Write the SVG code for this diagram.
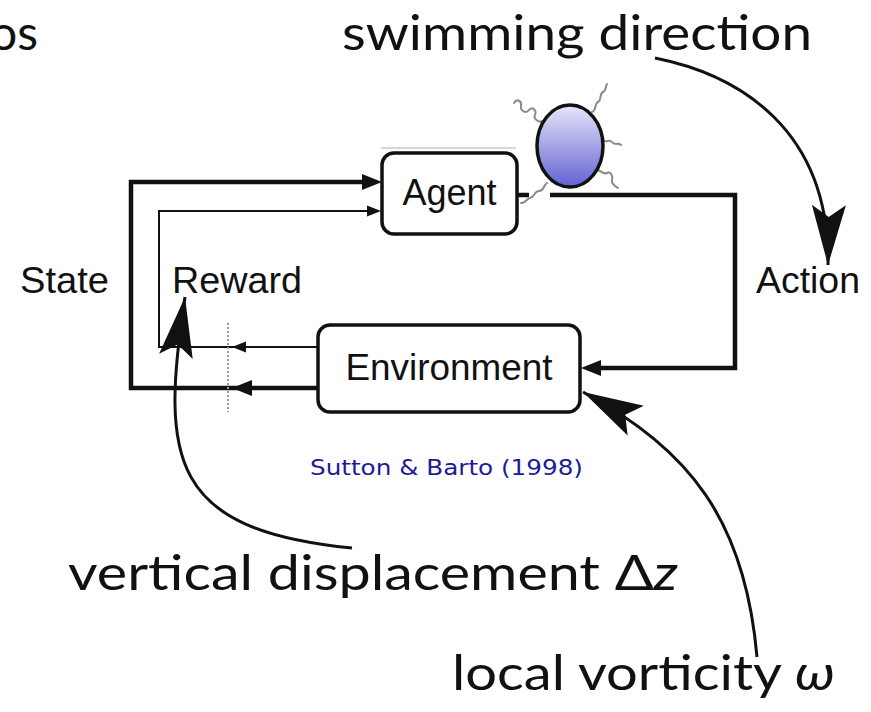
<svg xmlns="http://www.w3.org/2000/svg" width="871" height="712" viewBox="0 0 871 712">
  <style>
    .box { fill: #ffffff; stroke: #111; stroke-width: 3.5; }
    .lbl { font-family: "Liberation Sans", Arial, sans-serif; font-size: 36px; fill: #111; }
    .big { font-family: Lato, "Open Sans", sans-serif; font-size: 48px; fill: #111; }
    .thick { fill: none; stroke: #111; stroke-width: 4.5; }
    .thin { fill: none; stroke: #111; stroke-width: 2; }
    .curve { fill: none; stroke: #111; stroke-width: 3; }
    .flag { fill: none; stroke: #8a8a8a; stroke-width: 2; stroke-linecap: round; }
    .head { fill: #111; }
  </style>
  <defs>
    <linearGradient id="cellFill" x1="0" y1="0" x2="0" y2="1">
      <stop offset="0" stop-color="#e6e6fa"/>
      <stop offset="1" stop-color="#6262d2"/>
    </linearGradient>
    <marker id="swept" markerUnits="userSpaceOnUse" markerWidth="64" markerHeight="40" viewBox="0 -20 64 40" refX="60" refY="0" orient="auto">
      <path d="M60,0 L0,-17 L12,0 L0,17 Z" fill="#111"/>
    </marker>
  </defs>

  <rect width="871" height="712" fill="#ffffff"/>

  <!-- headline fragments -->
  <text class="big" x="-10" y="50">os</text>
  <text class="big" x="342" y="50" textLength="470" lengthAdjust="spacingAndGlyphs">swimming direction</text>

  <!-- faint rule above the agent box -->
  <line x1="381" y1="148" x2="516" y2="148" stroke="#c8c8c8" stroke-width="1.5"/>

  <g id="connectors">
    <!-- state loop (thick) -->
    <polyline class="thick" points="317,388 131,388 131,182 370,182"/>
    <polygon class="head" points="382,182 362,174 362,190"/>
    <polygon class="head" points="232,388 252,380 252,396"/>
    <!-- reward loop (thin) -->
    <polyline class="thin" points="317,347 159,347 159,211 372,211"/>
    <polygon class="head" points="381,211 367,205.5 367,216.5"/>
    <polygon class="head" points="232,347 246,341.5 246,352.5"/>
    <!-- action loop -->
    <line class="thick" x1="517" y1="195" x2="529" y2="195"/>
    <polyline class="thick" points="550,195 735,195 735,368 595,368"/>
    <polygon class="head" points="581,368 601,360 601,376"/>
    <!-- dotted time separator -->
    <line x1="228" y1="323" x2="228" y2="412" stroke="#999" stroke-width="2" stroke-dasharray="2,2"/>
  </g>

  <g id="agent">
    <rect class="box" x="382" y="153" width="135" height="81" rx="12"/>
    <text class="lbl" x="449.5" y="205" text-anchor="middle">Agent</text>
  </g>

  <g id="environment">
    <rect class="box" x="318" y="325" width="262" height="87" rx="12"/>
    <text class="lbl" x="449" y="380" text-anchor="middle" textLength="207" lengthAdjust="spacingAndGlyphs">Environment</text>
  </g>

  <g id="swimmer">
    <path class="flag" d="M514,103 c3,-5 8,-2 7,3 c-1,5 5,8 8,4 c3,-4 8,0 6,5 c-2,4 4,8 8,6"/>
    <path class="flag" d="M592,112 c5,-2 2,-8 6,-10 c4,-2 1,-8 5,-10 c4,-2 2,-6 4,-8"/>
    <path class="flag" d="M603,140 c4,4 6,-2 9,2 c3,4 6,0 9,3"/>
    <path class="flag" d="M597,170 c4,0 6,5 10,3 c4,-2 6,3 5,7 c-1,4 3,6 6,8"/>
    <path class="flag" d="M547,183 c-4,3 -3,8 -8,8 c-5,0 -4,6 -9,7 c-4,1 -5,6 -9,5"/>
    <ellipse cx="570" cy="146" rx="33" ry="41" fill="url(#cellFill)" stroke="#111" stroke-width="3.5"/>
  </g>

  <g id="labels">
    <text class="lbl" x="20" y="293" textLength="89" lengthAdjust="spacingAndGlyphs">State</text>
    <text class="lbl" x="172" y="293" textLength="130" lengthAdjust="spacingAndGlyphs">Reward</text>
    <text class="lbl" x="756" y="293" textLength="104" lengthAdjust="spacingAndGlyphs">Action</text>
    <text x="310" y="475" font-family="'DejaVu Sans', Verdana, sans-serif" font-size="21" fill="#1c1c96" textLength="273" lengthAdjust="spacingAndGlyphs">Sutton &amp; Barto (1998)</text>
  </g>

  <g id="annotations">
    <path class="curve" d="M655,58 C740,75 830,130 828,265" marker-end="url(#swept)"/>
    <path class="curve" d="M352,548 C170,530 160,460 185,297" marker-end="url(#swept)"/>
    <path class="curve" d="M757,657 C745,520 690,450 583,392" marker-end="url(#swept)"/>
    <text class="big" x="68" y="590" textLength="610" lengthAdjust="spacingAndGlyphs">vertical displacement Δ<tspan font-style="italic">z</tspan></text>
    <text class="big" x="452" y="690" textLength="383" lengthAdjust="spacingAndGlyphs">local vorticity <tspan font-style="italic">ω</tspan></text>
  </g>
</svg>
